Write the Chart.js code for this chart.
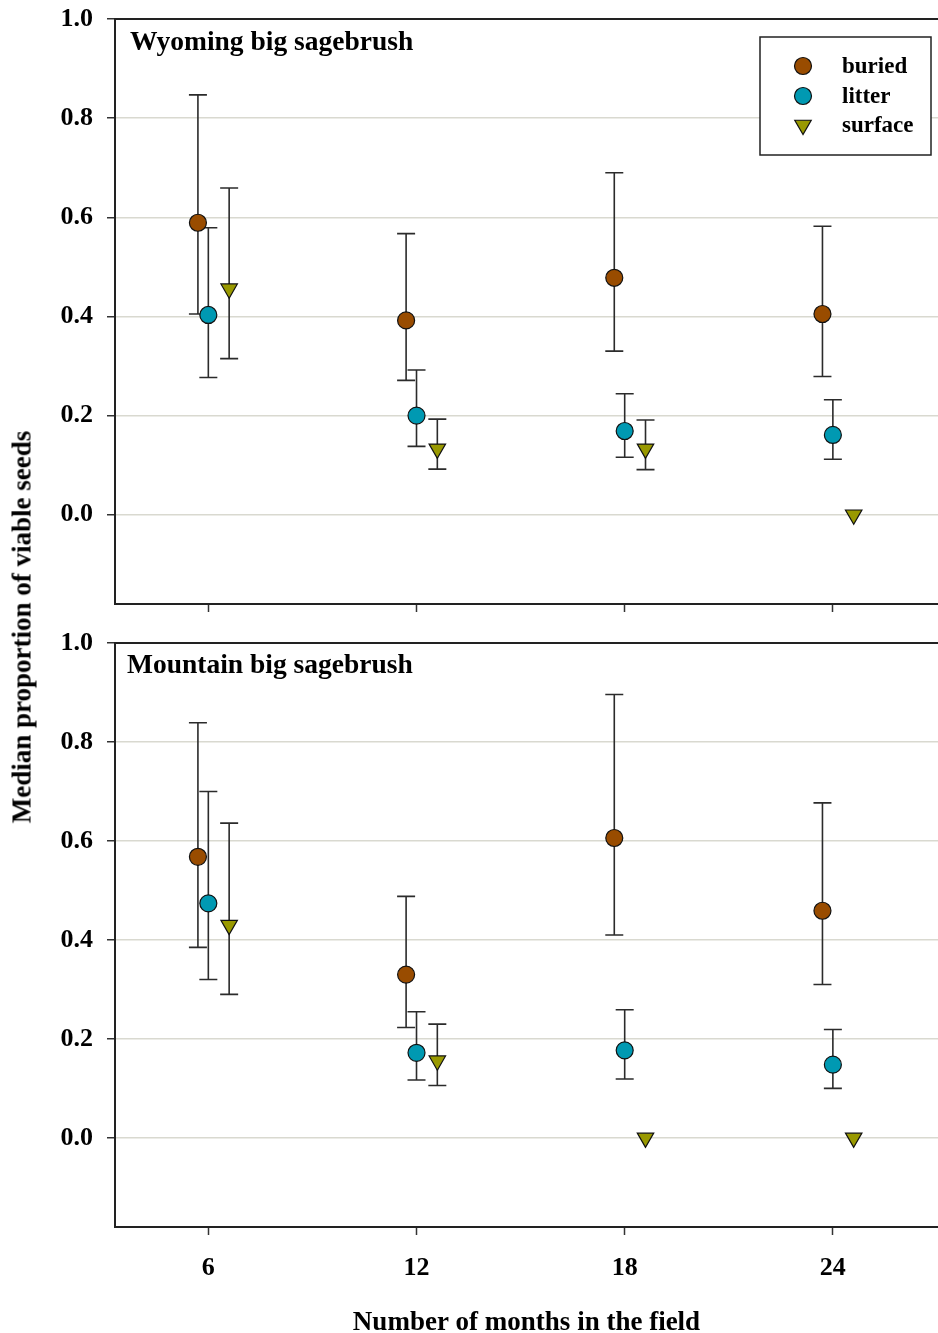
<!DOCTYPE html>
<html>
<head>
<meta charset="utf-8">
<script src="https://cdn.jsdelivr.net/npm/chart.js@4.4.0/dist/chart.umd.min.js"></script>
<style>
  body { margin: 0; background: #fff; }
  #wrap { position: relative; width: 938px; height: 1333px; }
  #top-chart { position: absolute; left: 0; top: 0; }
  #bot-chart { position: absolute; left: 0; top: 620px; }
  #ytitle {
    position: absolute; left: 22px; top: 627px;
    transform: translate(-50%, -50%) rotate(-90deg);
    font: bold 27px "Liberation Serif", "Times New Roman", serif;
    white-space: nowrap; color: #000;
  }
</style>
</head>
<body>
<div id="wrap">
  <canvas id="top-chart" width="938" height="620"></canvas>
  <canvas id="bot-chart" width="938" height="713"></canvas>
  <div id="ytitle">Median proportion of viable seeds</div>
</div>
<script>
// Dados
var months = [6, 12, 18, 24];
var yTicks = [0.0, 0.2, 0.4, 0.6, 0.8, 1.0];

// Wyoming big sagebrush
var wyBuried   = [0.589, 0.392, 0.478, 0.405];
var wyBuriedLo = [0.405, 0.271, 0.330, 0.279];
var wyBuriedHi = [0.847, 0.567, 0.690, 0.582];
var wyLitter   = [0.403, 0.200, 0.169, 0.161];
var wyLitterLo = [0.277, 0.138, 0.116, 0.112];
var wyLitterHi = [0.579, 0.292, 0.244, 0.232];
var wySurface   = [0.456, 0.133, 0.133, 0.0];
var wySurfaceLo = [0.315, 0.092, 0.091, null];
var wySurfaceHi = [0.659, 0.193, 0.191, null];

// Mountain big sagebrush
var mtBuried   = [0.568, 0.330, 0.606, 0.459];
var mtBuriedLo = [0.385, 0.223, 0.410, 0.310];
var mtBuriedHi = [0.839, 0.488, 0.896, 0.677];
var mtLitter   = [0.474, 0.172, 0.177, 0.148];
var mtLitterLo = [0.320, 0.117, 0.119, 0.100];
var mtLitterHi = [0.700, 0.255, 0.259, 0.219];
var mtSurface   = [0.430, 0.156, 0.0, 0.0];
var mtSurfaceLo = [0.290, 0.106, null, null];
var mtSurfaceHi = [0.636, 0.230, null, null];

var SERIF = '"Liberation Serif", "Times New Roman", serif';
var OFFSET = { buried: -0.3, litter: 0, surface: 0.6 };
var STYLE = {
    buried:  { color: "#994c00", shape: "circle",   radius: 8.5 },
    litter:  { color: "#0099b2", shape: "circle",   radius: 8.5 },
    surface: { color: "#999900", shape: "triangle", radius: 9.5 }
};

Chart.defaults.font.family = SERIF;
Chart.defaults.color = "#000";

function makeSet(name, vals, lo, hi) {
    var st = STYLE[name];
    return {
        label: name,
        data: months.map(function (m, i) { return { x: m + OFFSET[name], y: vals[i] }; }),
        errLo: lo,
        errHi: hi,
        showLine: false,
        pointStyle: st.shape,
        rotation: st.shape === "triangle" ? 180 : 0,
        pointRadius: st.radius,
        pointBackgroundColor: st.color,
        pointBorderColor: "#111",
        pointBorderWidth: 1.2
    };
}

// barras de erro desenhadas pelas escalas do gráfico
var errorBars = {
    id: "errorBars",
    beforeDatasetsDraw: function (chart) {
        var ctx = chart.ctx, xs = chart.scales.x, ys = chart.scales.y;
        ctx.save();
        ctx.strokeStyle = "#2b2b2b";
        ctx.lineWidth = 1.6;
        chart.data.datasets.forEach(function (ds) {
            ds.data.forEach(function (p, i) {
                var lo = ds.errLo[i], hi = ds.errHi[i];
                if (lo == null || hi == null) return;
                var x = xs.getPixelForValue(p.x);
                var y1 = ys.getPixelForValue(hi), y2 = ys.getPixelForValue(lo);
                ctx.beginPath();
                ctx.moveTo(x, y1); ctx.lineTo(x, y2);
                ctx.moveTo(x - 9, y1); ctx.lineTo(x + 9, y1);
                ctx.moveTo(x - 9, y2); ctx.lineTo(x + 9, y2);
                ctx.stroke();
            });
        });
        ctx.restore();
    }
};

function marker(ctx, shape, x, y, r, color) {
    ctx.beginPath();
    if (shape === "circle") {
        ctx.arc(x, y, r, 0, Math.PI * 2);
    } else {
        var s = Math.sin(Math.PI / 3) * r;
        ctx.moveTo(x, y + r);
        ctx.lineTo(x - s, y - r / 2);
        ctx.lineTo(x + s, y - r / 2);
        ctx.closePath();
    }
    ctx.fillStyle = color;
    ctx.fill();
    ctx.strokeStyle = "#111";
    ctx.lineWidth = 1.2;
    ctx.stroke();
}

// borda superior, título do painel e legenda
var panelDecor = {
    id: "panelDecor",
    afterDraw: function (chart, args, opts) {
        var ctx = chart.ctx, a = chart.chartArea;
        ctx.save();
        ctx.strokeStyle = "#222";
        ctx.lineWidth = 2;
        ctx.beginPath();
        ctx.moveTo(a.left - 1, a.top);
        ctx.lineTo(a.right, a.top);
        ctx.stroke();

        ctx.fillStyle = "#000";
        ctx.font = "bold 27.5px " + SERIF;
        ctx.textAlign = "left";
        ctx.textBaseline = "alphabetic";
        ctx.fillText(opts.title, opts.titleX, opts.titleY);

        if (opts.legend) {
            ctx.fillStyle = "#fff";
            ctx.fillRect(760, 37, 171, 118);
            ctx.strokeStyle = "#222";
            ctx.lineWidth = 1.5;
            ctx.strokeRect(760, 37, 171, 118);
            var names = ["buried", "litter", "surface"];
            var ys = [66, 96, 125];
            names.forEach(function (n, i) {
                marker(ctx, STYLE[n].shape, 803, ys[i], STYLE[n].radius, STYLE[n].color);
                ctx.fillStyle = "#000";
                ctx.font = "bold 23px " + SERIF;
                ctx.textBaseline = "middle";
                ctx.fillText(n, 842, ys[i] + 1);
            });
        }
        ctx.restore();
    }
};

function makeChart(id, sets, opts) {
    return new Chart(document.getElementById(id), {
        type: "scatter",
        data: { datasets: sets },
        plugins: [errorBars, panelDecor],
        options: {
            responsive: false,
            animation: false,
            layout: { autoPadding: false, padding: { top: opts.padTop, left: 0, right: 0, bottom: 0 } },
            plugins: {
                legend: { display: false },
                tooltip: { enabled: false },
                panelDecor: opts.decor
            },
            scales: {
                x: {
                    type: "linear",
                    min: 3.31,
                    max: 27.03,
                    afterBuildTicks: function (axis) {
                        axis.ticks = months.map(function (m) { return { value: m }; });
                    },
                    afterFit: function (scale) {
                        scale.height = opts.xHeight;
                        scale.paddingLeft = 0;
                        scale.paddingRight = 0;
                    },
                    ticks: {
                        padding: 18,
                        font: { size: 26, weight: "bold" },
                        color: "#000",
                        callback: function (v) { return opts.xLabels ? String(v) : ""; }
                    },
                    grid: { drawOnChartArea: false, tickLength: 8, tickColor: "#333", tickWidth: 1.5 },
                    border: { color: "#222", width: 2 },
                    title: {
                        display: !!opts.xTitle,
                        text: opts.xTitle || "",
                        font: { size: 27, weight: "bold", lineHeight: 1 },
                        color: "#000",
                        padding: { top: 0, bottom: -4 }
                    }
                },
                y: {
                    min: -0.18,
                    max: 1.0,
                    afterBuildTicks: function (axis) {
                        axis.ticks = yTicks.map(function (v) { return { value: v }; });
                    },
                    afterFit: function (scale) {
                        scale.width = 115;
                        scale.paddingTop = 0;
                        scale.paddingBottom = 0;
                    },
                    ticks: {
                        padding: 14,
                        font: { size: 26, weight: "bold" },
                        color: "#000",
                        callback: function (v) { return Number(v).toFixed(1); }
                    },
                    grid: { color: "#d9d9d0", lineWidth: 1.5, tickLength: 8, tickColor: "#333", tickWidth: 1.5 },
                    border: { color: "#222", width: 2 }
                }
            }
        }
    });
}

document.addEventListener("DOMContentLoaded", function () {
    makeChart("top-chart", [
        makeSet("buried", wyBuried, wyBuriedLo, wyBuriedHi),
        makeSet("litter", wyLitter, wyLitterLo, wyLitterHi),
        makeSet("surface", wySurface, wySurfaceLo, wySurfaceHi)
    ], {
        padTop: 19, xHeight: 16, xLabels: false,
        decor: { title: "Wyoming big sagebrush", titleX: 130, titleY: 50, legend: true }
    });

    makeChart("bot-chart", [
        makeSet("buried", mtBuried, mtBuriedLo, mtBuriedHi),
        makeSet("litter", mtLitter, mtLitterLo, mtLitterHi),
        makeSet("surface", mtSurface, mtSurfaceLo, mtSurfaceHi)
    ], {
        padTop: 23, xHeight: 106, xLabels: true, xTitle: "Number of months in the field",
        decor: { title: "Mountain big sagebrush", titleX: 127, titleY: 53, legend: false }
    });
});
</script>
</body>
</html>
